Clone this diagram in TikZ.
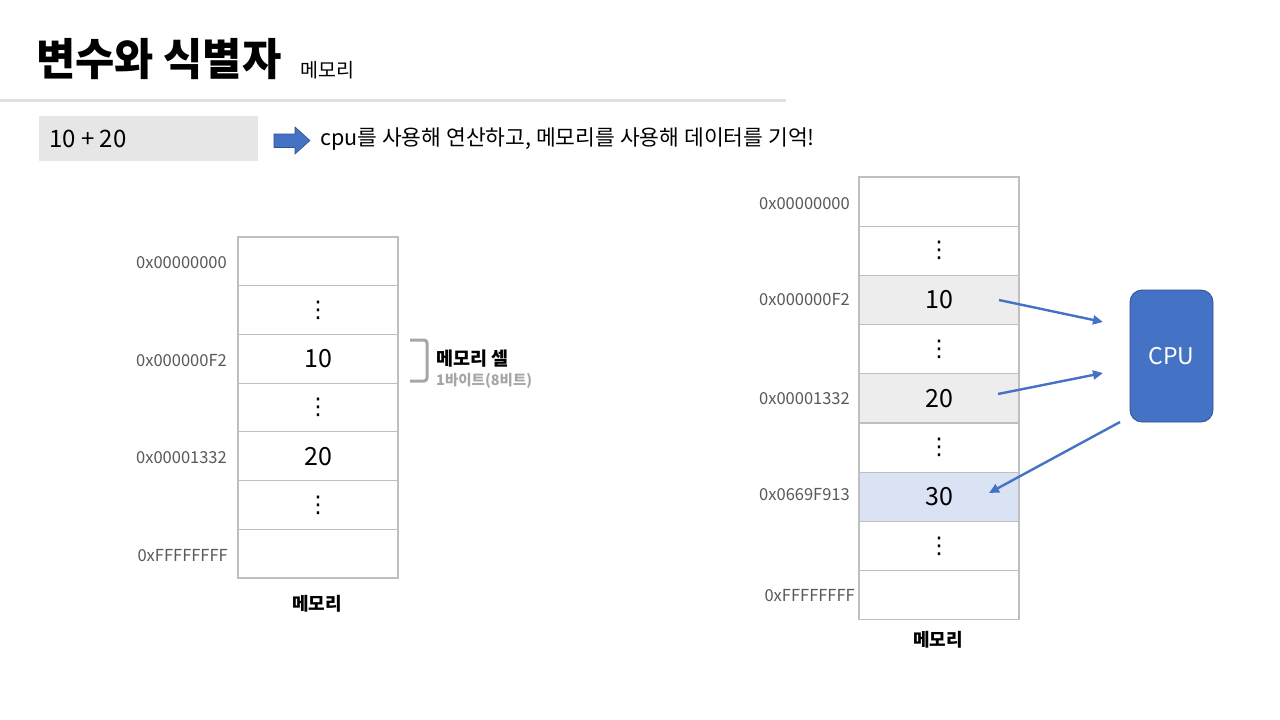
\documentclass[tikz,border=0pt]{standalone}
\usepackage{fontspec}
\setmainfont{Noto Sans CJK KR}
\newfontfamily\titlefont[FakeStretch=0.97]{Noto Sans CJK KR}
\newfontfamily\dotsfont{DejaVu Sans}
\usetikzlibrary{arrows.meta}
\newcommand\fsz[1]{\fontsize{#1}{#1}\selectfont}
\newcommand\celldots{{\dotsfont\fsz{23}⋮}}
\definecolor{cellgray}{HTML}{BFBFBF}
\definecolor{addrgray}{HTML}{595959}
\definecolor{subgray}{HTML}{A6A6A6}
\definecolor{rulegray}{HTML}{E0E0E0}
\definecolor{boxgray}{HTML}{E7E6E6}
\definecolor{cpublue}{HTML}{4472C4}
\definecolor{cpuborder}{HTML}{2F528F}
\definecolor{hlgray}{HTML}{EDEDED}
\definecolor{hlblue}{HTML}{DAE3F3}
\begin{document}
\begin{tikzpicture}[x=1pt,y=-1pt,
  cellL/.style={draw=cellgray, line width=1.2pt, minimum width=160pt, minimum height=48.7pt, inner sep=0pt, font=\fsz{25}},
  cellR/.style={cellL, minimum height=49.2pt},
  addr/.style={anchor=east, text=addrgray, font=\fsz{16.5}, inner sep=0pt},
  caption/.style={font=\bfseries\fsz{18}, inner sep=0pt},
  flow/.style={draw=cpublue, line width=2.4pt, -{Triangle[length=10pt,width=9pt]}}
]
\fill[white] (0,0) rectangle (1280,720);
\useasboundingbox (0,0) rectangle (1280,720);

% header
\node[anchor=west, inner sep=0pt, font=\titlefont\bfseries\fsz{44}] (title) at (36,59) {변수와 식별자};
\node[anchor=west, inner sep=0pt, font=\fsz{19.5}] (sub) at (300,70) {메모리};
\coordinate (ruleA) at (0,100.5);
\coordinate (ruleB) at (786,100.5);
\draw[draw=rulegray, line width=3pt] (ruleA) -- (ruleB);

\node[fill=boxgray, minimum width=219pt, minimum height=45pt, inner sep=0pt] (expr) at (148.5,138.5) {};
\node[anchor=west, inner sep=0pt, font=\fsz{24}] (exprtext) at (49,139) {10 + 20};
\fill[cpublue, draw=cpuborder, line width=0.6pt] (274,134) -- (295,134) -- (295,127) -- (310,140.5) -- (295,154) -- (295,147.5) -- (274,147.5) -- cycle;
\node[anchor=west, inner sep=0pt, font=\fsz{21.5}] (msg) at (320,139) {cpu를 사용해 연산하고, 메모리를 사용해 데이터를 기억!};

% left memory
\node[cellL] (L1) at (318,261.35) {};
\node[cellL] (L2) at (318,310.05) {\celldots};
\node[cellL] (L3) at (318,358.75) {10};
\node[cellL] (L4) at (318,407.45) {\celldots};
\node[cellL] (L5) at (318,456.15) {20};
\node[cellL] (L6) at (318,504.85) {\celldots};
\node[cellL] (L7) at (318,553.55) {};
\node[addr] (La1) at (227,263) {0x00000000};
\node[addr] (La3) at (227,361) {0x000000F2};
\node[addr] (La5) at (227,458) {0x00001332};
\node[addr] (La7) at (228,556) {0xFFFFFFFF};
\node[caption] (capL) at (317,604) {메모리};

\draw[subgray, line width=3pt, rounded corners=3pt] (410,340) -- (427,340) -- (427,381) -- (410,381);
\node[anchor=west, inner sep=0pt, font=\bfseries\fsz{18.5}] (cellname) at (436,359) {메모리 셀};
\node[anchor=west, inner sep=0pt, font=\bfseries\fsz{14.5}, text=subgray] (cellsize) at (436,381) {1바이트(8비트)};

% right memory
\node[cellR] (R1) at (939,201.6) {};
\node[cellR] (R2) at (939,250.8) {\celldots};
\node[cellR, fill=hlgray] (R3) at (939,300) {10};
\node[cellR] (R4) at (939,349.2) {\celldots};
\node[cellR, fill=hlgray] (R5) at (939,398.4) {20};
\node[cellR] (R6) at (939,447.6) {\celldots};
\node[cellR, fill=hlblue] (R7) at (939,496.8) {30};
\node[cellR] (R8) at (939,546) {\celldots};
\node[cellR] (R9) at (939,595.2) {};
\node[addr] (Ra1) at (850,204) {0x00000000};
\node[addr] (Ra3) at (850,300) {0x000000F2};
\node[addr] (Ra5) at (850,399) {0x00001332};
\node[addr] (Ra7) at (850,495) {0x0669F913};
\node[addr] (Ra9) at (855,596) {0xFFFFFFFF};
\node[caption] (capR) at (938,640) {메모리};

\node[fill=cpublue, draw=cpuborder, line width=0.8pt, rounded corners=12pt, minimum width=83pt, minimum height=132pt, inner sep=0pt, text=white, font=\fsz{23}] (cpu) at (1171.5,356) {CPU};

\coordinate (a1) at (999,300);
\coordinate (b1) at (1103,322);
\coordinate (a2) at (998,394);
\coordinate (b2) at (1103,373);
\coordinate (c3) at (1120,422);
\coordinate (d3) at (989,493);
\draw[flow] (a1) -- (b1);
\draw[flow] (a2) -- (b2);
\draw[flow] (c3) -- (d3);
\end{tikzpicture}
\end{document}
